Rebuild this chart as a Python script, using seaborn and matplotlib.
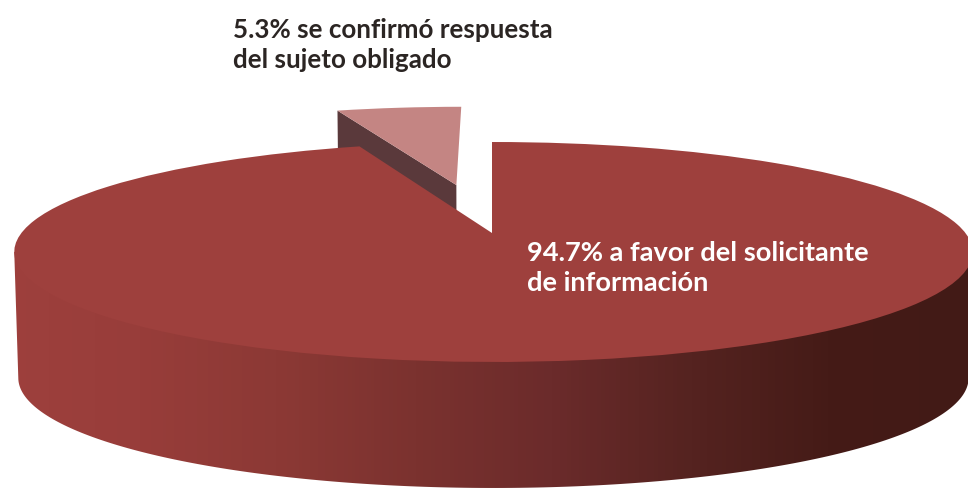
#!/usr/bin/env python3
# -*- coding: utf-8 -*-

import numpy as np
import matplotlib
matplotlib.use('Agg')
import matplotlib.pyplot as plt
import matplotlib.transforms as mtransforms
from matplotlib.patches import Polygon
import seaborn as sns

shares = [94.7, 5.3]
explode = [0, 0.494]
slice_colors = ['#9e403d', '#c48583']
labels = ['94.7% a favor del solicitante\nde información',
          '5.3% se confirmó respuesta\ndel sujeto obligado']
label_colors = ['white', '#2b2523']
wall_colors = ['#9e403d', '#983d3a', '#8c3935', '#7b322f', '#6b2b2b', '#552320', '#451b17', '#421a16']
slice_wall_color = '#5a393b'

sns.set_theme(style='white')
plt.rcParams['font.family'] = ['Lato', 'DejaVu Sans']


class TiltTransform(mtransforms.Transform):
    """Project the unit pie disc to pixels, as a tilted plane seen in perspective"""
    input_dims = 2
    output_dims = 2
    is_separable = False

    def __init__(self, drop=0.0, width=472.0):
        super().__init__()
        self.drop = drop
        self.width = width

    def transform_non_affine(self, values):
        values = np.asarray(values, dtype=float)
        x, y = values[:, 0], values[:, 1]
        denom = 1 + 0.1727 * y - 0.003 * x
        return np.column_stack([492 + self.width * x / denom,
                                233 + self.drop - 106.7 * y / denom])


top = TiltTransform()
bottom = TiltTransform(drop=126, width=468)

fig = plt.figure(figsize=(9.68, 4.88), dpi=100)
ax = fig.add_axes([0, 0, 1, 1])

wedges, _ = ax.pie(shares, explode=explode, colors=slice_colors, startangle=90, counterclock=False)
for wedge in wedges:
    wedge.set_transform(top + ax.transData)
    wedge.set_linewidth(0)
wedges[0].set_zorder(5)
wedges[1].set_zorder(3)

ax.set_aspect('auto')
ax.set_xlim(0, 968)
ax.set_ylim(488, 0)
ax.axis('off')

# Outer wall of the big slice, colour runs from left to right
# top rim pulled in a little so no white shows along the seam
angles = np.radians(np.linspace(190, 350, 200))
rim = np.column_stack([np.cos(angles), np.sin(angles)])
outline = np.vstack([top.transform(rim[:1]), top.transform(rim * 0.98), top.transform(rim[-1:]),
                     bottom.transform(rim)[::-1]])
gradient = np.array(sns.blend_palette(wall_colors, 256))[np.newaxis, :, :]
im = ax.imshow(gradient, extent=(0, 968, 488, 0), aspect='auto', zorder=2)
im.set_clip_path(Polygon(outline, closed=True, transform=ax.transData))

# Cut face of the pulled out slice
small = wedges[1]
apex = np.array(small.center)
edge = apex + np.array([np.cos(np.radians(small.theta2)), np.sin(np.radians(small.theta2))])
face = np.vstack([top.transform(np.array([apex, edge])), bottom.transform(np.array([edge, apex]))])
ax.add_patch(Polygon(face, closed=True, facecolor=slice_wall_color, edgecolor='none', zorder=2.5))

ax.text(527, 291, labels[0], color=label_colors[0], fontsize=19.6, fontweight='bold',
        ha='left', va='baseline', linespacing=1.3, zorder=6)
ax.text(233, 68, labels[1], color=label_colors[1], fontsize=18.7, fontweight='bold',
        ha='left', va='baseline', linespacing=1.3, zorder=6)

ax.set_xlim(0, 968)
ax.set_ylim(488, 0)
fig.savefig('out.png', dpi=100)
plt.close(fig)
